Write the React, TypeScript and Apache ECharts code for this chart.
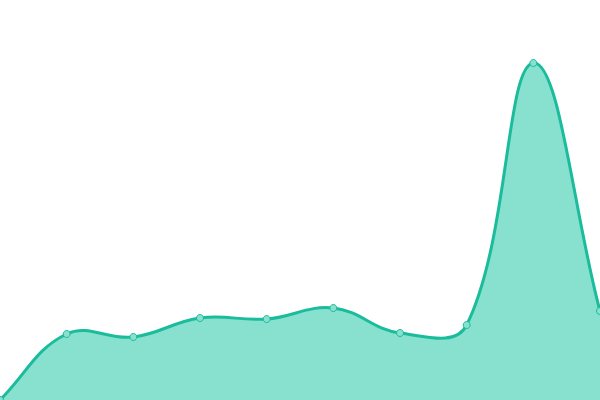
import React, { useEffect, useRef } from "react";
import * as echarts from "echarts";

const categories = ["1", "2", "3", "4", "5", "6", "7", "8", "9", "10"];
const values = [0, 66, 63, 82, 81, 92, 67, 75, 337, 89];

const LINE_COLOR = "#1abc9c";
const AREA_COLOR = "#88e0cf";
const TENSION = 0.4;

// spline à la chart.js : points de contrôle qui peuvent dépasser les valeurs
const buildPaths = (pts: number[][], left: number, right: number, top: number, bottom: number) => {
  const clamp = (v: number, a: number, b: number) => Math.max(a, Math.min(b, v));
  const cps = pts.map((cur, i) => {
    const prev = pts[i - 1] || cur;
    const next = pts[i + 1] || cur;
    const d01 = Math.hypot(cur[0] - prev[0], cur[1] - prev[1]);
    const d12 = Math.hypot(next[0] - cur[0], next[1] - cur[1]);
    const sum = d01 + d12;
    const s01 = sum ? d01 / sum : 0;
    const s12 = sum ? d12 / sum : 0;
    const fa = TENSION * s01;
    const fb = TENSION * s12;
    const dx = next[0] - prev[0];
    const dy = next[1] - prev[1];
    return {
      px: clamp(cur[0] - fa * dx, left, right),
      py: clamp(cur[1] - fa * dy, top, bottom),
      nx: clamp(cur[0] + fb * dx, left, right),
      ny: clamp(cur[1] + fb * dy, top, bottom),
    };
  });
  let line = `M${pts[0][0]},${pts[0][1]}`;
  for (let i = 1; i < pts.length; i++) {
    const a = cps[i - 1];
    const b = cps[i];
    line += ` C${a.nx},${a.ny} ${b.px},${b.py} ${pts[i][0]},${pts[i][1]}`;
  }
  const last = pts[pts.length - 1];
  const area = `${line} L${last[0]},${bottom} L${pts[0][0]},${bottom} Z`;
  return { line, area };
};

const App: React.FC = () => {
  const chartRef = useRef<HTMLDivElement>(null);

  useEffect(() => {
    if (!chartRef.current) return;
    const chart = echarts.init(chartRef.current, undefined, { renderer: "svg" });
    chart.setOption({
      animation: false,
      grid: { left: 0, right: 0, top: 0, bottom: 0 },
      xAxis: {
        type: "category",
        data: categories,
        boundaryGap: false,
        show: false,
      },
      yAxis: {
        type: "value",
        min: 0,
        max: 400,
        show: false,
      },
      series: [
        {
          type: "custom",
          data: values.map((v, i) => [i, v]),
          encode: { x: 0, y: 1 },
          clip: false,
          renderItem: (params: any, api: any) => {
            if (params.dataIndex !== 0) return null;
            const pts = values.map((v, i) => api.coord([i, v]));
            const cs = params.coordSys;
            const { line, area } = buildPaths(pts, cs.x, cs.x + cs.width, cs.y, cs.y + cs.height);
            return {
              type: "group",
              children: [
                { type: "path", shape: { pathData: area }, style: { fill: AREA_COLOR, stroke: "none" } },
                { type: "path", shape: { pathData: line }, style: { fill: "none", stroke: LINE_COLOR, lineWidth: 3 } },
              ],
            };
          },
        },
        {
          type: "scatter",
          data: values,
          symbol: "circle",
          symbolSize: 7,
          itemStyle: { color: AREA_COLOR, borderColor: LINE_COLOR, borderWidth: 1, opacity: 1 },
        },
      ],
    });
    return () => {
      chart.dispose();
    };
  }, []);

  return (
    <div
      ref={chartRef}
      style={{ position: "fixed", left: 0, top: 0, width: 600, height: 400 }}
    />
  );
};

export default App;
